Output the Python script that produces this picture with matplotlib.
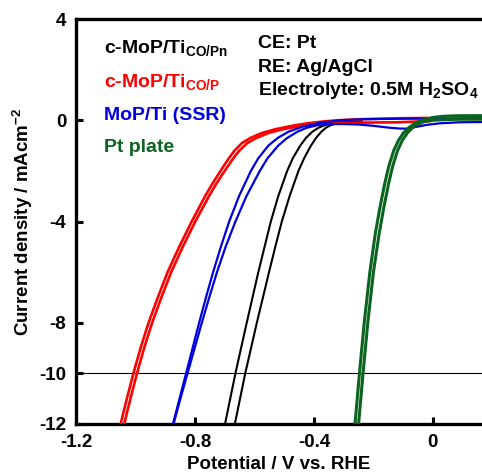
import numpy as np
import matplotlib
matplotlib.use('Agg')
import matplotlib.pyplot as plt

plt.rcParams['font.family'] = ['Liberation Sans', 'DejaVu Sans']
plt.rcParams['font.weight'] = 'bold'
plt.rcParams['mathtext.fontset'] = 'custom'
plt.rcParams['mathtext.rm'] = 'Liberation Sans:bold'
plt.rcParams['mathtext.bf'] = 'Liberation Sans:bold'
plt.rcParams['mathtext.default'] = 'bf'
plt.rcParams['axes.unicode_minus'] = False

# LSV curves, two scan branches each (V vs RHE, mA cm-2)
black_v1 = [-0.706, -0.699, -0.664, -0.626, -0.587, -0.566, -0.545, -0.520, -0.490, -0.471, -0.446, -0.427, -0.405, -0.385, -0.365, -0.342, -0.310, -0.270, -0.240]
black_j1 = [-12.4, -12.0, -10.0, -8.0, -6.0, -5.0, -4.0, -3.0, -2.0, -1.5, -1.0, -0.7, -0.45, -0.3, -0.2, -0.12, -0.08, -0.05, -0.04]
black_v2 = [-0.673, -0.666, -0.631, -0.592, -0.551, -0.530, -0.508, -0.482, -0.452, -0.433, -0.410, -0.393, -0.375, -0.360, -0.345, -0.325, -0.300, -0.240]
black_j2 = [-12.4, -12.0, -10.0, -8.0, -6.0, -5.0, -4.0, -3.0, -2.0, -1.5, -1.0, -0.7, -0.45, -0.3, -0.2, -0.13, -0.10, -0.08]

red_v1 = [-1.059, -1.050, -1.029, -1.007, -0.983, -0.956, -0.925, -0.892, -0.853, -0.811, -0.766, -0.741, -0.714, -0.686, -0.667, -0.642, -0.614, -0.574, -0.528, -0.474, -0.422, -0.370, -0.320, -0.250, -0.180, -0.100, -0.020]
red_j1 = [-12.4, -12.0, -11.0, -10.0, -9.0, -8.0, -7.0, -6.0, -5.0, -4.0, -3.0, -2.5, -2.0, -1.5, -1.2, -0.9, -0.7, -0.5, -0.35, -0.22, -0.12, -0.05, 0.0, 0.04, 0.06, 0.08, 0.09]
red_v2 = [-1.047, -1.038, -1.017, -0.995, -0.971, -0.944, -0.913, -0.880, -0.841, -0.799, -0.753, -0.728, -0.700, -0.671, -0.651, -0.624, -0.594, -0.552, -0.503, -0.454, -0.402, -0.340, -0.280, -0.200, -0.120, -0.050, -0.010]
red_j2 = [-12.4, -12.0, -11.0, -10.0, -9.0, -8.0, -7.0, -6.0, -5.0, -4.0, -3.0, -2.5, -2.0, -1.5, -1.2, -0.9, -0.7, -0.5, -0.35, -0.25, -0.17, -0.12, -0.10, -0.09, -0.08, -0.05, -0.03]

blue_v1 = [-0.883, -0.874, -0.852, -0.830, -0.808, -0.786, -0.763, -0.739, -0.713, -0.685, -0.652, -0.612, -0.587, -0.553, -0.522, -0.485, -0.437, -0.380, -0.310, -0.240, -0.111, 0.024, 0.165]
blue_j1 = [-12.4, -12.0, -11.0, -10.0, -9.0, -8.0, -7.0, -6.0, -5.0, -4.0, -3.0, -2.0, -1.5, -1.0, -0.7, -0.45, -0.25, -0.10, 0.0, 0.04, 0.06, 0.07, 0.08]
blue_v2 = [-0.882, -0.872, -0.849, -0.825, -0.801, -0.777, -0.752, -0.726, -0.697, -0.664, -0.627, -0.582, -0.556, -0.520, -0.490, -0.455, -0.425, -0.390, -0.356, -0.300, -0.250, -0.200, -0.150, -0.110, -0.085, -0.060, -0.020, 0.024, 0.090, 0.165]
blue_j2 = [-12.4, -12.0, -11.0, -10.0, -9.0, -8.0, -7.0, -6.0, -5.0, -4.0, -3.0, -2.0, -1.5, -1.0, -0.7, -0.45, -0.3, -0.2, -0.15, -0.15, -0.17, -0.22, -0.29, -0.33, -0.33, -0.27, -0.18, -0.12, -0.08, -0.07]

green_v1 = [-0.266, -0.262, -0.247, -0.231, -0.212, -0.194, -0.179, -0.162, -0.148, -0.132, -0.116, -0.099, -0.082, -0.064, -0.042, -0.020, 0.005, 0.040, 0.090, 0.165]
green_j1 = [-12.4, -12.0, -10.0, -8.0, -6.0, -4.5, -3.5, -2.5, -1.8, -1.2, -0.8, -0.5, -0.3, -0.15, -0.02, 0.06, 0.12, 0.16, 0.18, 0.18]
green_v2 = [-0.254, -0.250, -0.235, -0.219, -0.200, -0.181, -0.166, -0.149, -0.135, -0.119, -0.103, -0.086, -0.069, -0.050, -0.030, 0.000, 0.050, 0.100, 0.165]
green_j2 = [-12.4, -12.0, -10.0, -8.0, -6.0, -4.5, -3.5, -2.5, -1.8, -1.2, -0.8, -0.5, -0.3, -0.15, -0.06, 0.0, 0.03, 0.04, 0.04]

xticks = [-1.2, -0.8, -0.4, 0.0]
xtick_labels = ['-1.2', '-0.8', '-0.4', '0']
yticks = [4, 0, -4, -8, -10, -12]
ytick_labels = ['4', '0', '-4', '-8', '-10', '-12']

legend_labels = ['c-MoP/Ti$_{CO/Pn}$', 'c-MoP/Ti$_{CO/P}$', 'MoP/Ti (SSR)', 'Pt plate']
legend_colors = ['black', '#ff0000', '#0000dd', '#0b6320']
info_lines = ['CE: Pt', 'RE: Ag/AgCl', 'Electrolyte: 0.5M H$_2$SO$_4$']

fig = plt.figure(figsize=(4.82, 4.75), dpi=100)
W, H = 482.0, 475.0
ax = fig.add_axes([76/W, 51/H, 406/W, 405/H])

ax.plot(black_v1, black_j1, color='black', lw=1.5, zorder=2)
ax.plot(black_v2, black_j2, color='black', lw=1.5, zorder=2)
ax.plot(red_v1, red_j1, color='#ff0000', lw=1.9, zorder=3)
ax.plot(red_v2, red_j2, color='#ff0000', lw=1.9, zorder=3)
ax.plot(blue_v1, blue_j1, color='#0000dd', lw=1.6, zorder=4)
ax.plot(blue_v2, blue_j2, color='#0000dd', lw=1.6, zorder=4)
ax.plot(green_v1, green_j1, color='#0b6320', lw=2.2, zorder=5)
ax.plot(green_v2, green_j2, color='#0b6320', lw=2.2, zorder=5)

ax.axhline(-10, color='black', lw=0.8, zorder=1)

ax.set_xlim(-1.2, 0.165)
ax.set_ylim(-12, 4)
ax.set_xticks(xticks)
ax.set_xticklabels(xtick_labels)
ax.set_yticks(yticks)
ax.set_yticklabels(ytick_labels)
ax.tick_params(direction='in', length=5, width=2.2, labelsize=13.5, pad=7)
for s in ['left', 'bottom', 'top']:
	ax.spines[s].set_linewidth(2.4)
ax.spines['right'].set_visible(False)

ax.set_xlabel('Potential / V vs. RHE', fontsize=13.5, fontweight='bold', labelpad=4)
ax.set_ylabel('Current density / mAcm$^{-2}$', fontsize=13.5, fontweight='bold', labelpad=3)

# sample names
ybase = [53, 87, 120, 152]
for lab, col, yb in zip(legend_labels, legend_colors, ybase):
	fig.text(104/W, 1-yb/H, lab, color=col, fontsize=14, fontweight='bold', va='baseline', ha='left')

# conditions
ybase2 = [48, 72, 95]
for t, yb in zip(info_lines, ybase2):
	fig.text(258/W, 1-yb/H, t, color='black', fontsize=14, fontweight='bold', va='baseline', ha='left')

fig.savefig('out.png', dpi=100)
